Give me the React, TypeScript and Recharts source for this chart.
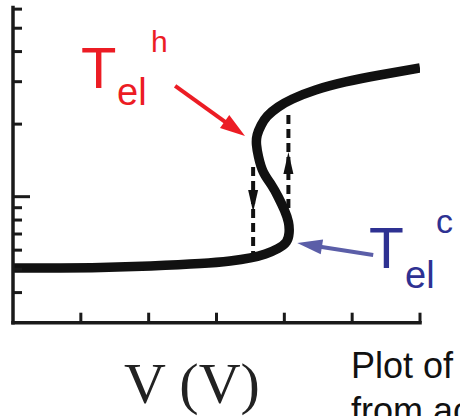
import React from 'react';
import { LineChart, Line, XAxis, YAxis, ReferenceDot } from 'recharts';

// S-shaped T_el(V) curve, in path order (V in volts, T on log axis)
const curveV = [0, 0.7, 1.29, 2.03, 2.76, 3.2, 3.5, 3.72, 3.91, 4.03, 4.07, 4.06, 4.0, 3.91, 3.81, 3.69, 3.62, 3.59, 3.6, 3.66, 3.75, 3.91, 4.12, 4.46, 4.9, 5.41, 6.0];
const curveT = [506, 506, 508, 516, 528, 541, 557, 578, 610, 649, 707, 785, 881, 997, 1118, 1266, 1461, 1639, 1803, 1984, 2162, 2356, 2543, 2772, 2992, 3199, 3420];

// dashed jump lines
const downJumpV = [3.54, 3.54];
const downJumpT = [1328, 570];
const downTip = { v: 3.54, T: 864 };
const upJumpV = [4.06, 4.06];
const upJumpT = [2182, 896];
const upTip = { v: 4.06, T: 1533 };

// annotation arrows
const hotShaftV = [2.39, 3.23];
const hotShaftT = [2879, 1946];
const hotTip = { v: 3.42, T: 1786 };
const coldShaftV = [5.31, 4.41];
const coldShaftT = [573, 627];
const coldTip = { v: 4.19, T: 643 };

const xTicks = [1, 2, 3, 4, 5, 6];
const yTicks = [400, 500, 600, 700, 800, 900, 1000, 2000, 3000, 4000, 5000, 6000];
const majorYTicks = [1000];

const labelHot = { base: 'T', sub: 'el', sup: 'h' };
const labelCold = { base: 'T', sub: 'el', sup: 'c' };
const xLabel = 'V (V)';
const captionLines = ['Plot of', 'from ac'];

const toPts = (vs: number[], ts: number[]) => vs.map((v, i) => ({ v, T: ts[i] }));
const curveData = toPts(curveV, curveT);
const downData = toPts(downJumpV, downJumpT);
const upData = toPts(upJumpV, upJumpT);
const hotData = toPts(hotShaftV, hotShaftT);
const coldData = toPts(coldShaftV, coldShaftT);

const AXIS = '#1a1a1a';
const RED = '#ec1c24';
const BLUE_TEXT = '#2e3192';
const BLUE_ARROW = '#5b5ea8';

const YTick = (props: any) => {
  const { x, y, payload } = props;
  const len = majorYTicks.includes(payload.value) ? 17 : 9;
  return <line x1={x} y1={y} x2={x + len} y2={y} stroke={AXIS} strokeWidth={3} />;
};
const XTick = (props: any) => {
  const { x, y } = props;
  return <line x1={x} y1={y} x2={x} y2={y - 10} stroke={AXIS} strokeWidth={3} />;
};

const head = (angle: number, L: number, W: number, color: string) => (p: any) => {
  const { cx, cy } = p;
  return (
    <polygon
      points={`0,0 ${-L},${-W / 2} ${-L},${W / 2}`}
      fill={color}
      transform={`translate(${cx},${cy}) rotate(${angle})`}
    />
  );
};

export default function App() {
  return (
    <div style={{ position: 'absolute', left: 0, top: 0, width: 460, height: 416, background: '#fff', overflow: 'hidden' }}>
      <LineChart width={460} height={416} margin={{ top: 7.4, left: 12, right: 40, bottom: 92.3 }}>
        <XAxis
          type="number"
          dataKey="v"
          domain={[0, 6]}
          ticks={xTicks}
          interval={0}
          height={1}
          tickSize={0}
          tickMargin={0}
          tick={<XTick />}
          tickLine={false}
          axisLine={{ stroke: AXIS, strokeWidth: 3.5, strokeLinecap: 'square' }}
          allowDataOverflow
        />
        <YAxis
          type="number"
          dataKey="T"
          scale="log"
          domain={[300, 6100]}
          ticks={yTicks}
          interval={0}
          width={1}
          tickSize={0}
          tickMargin={0}
          tick={<YTick />}
          tickLine={false}
          axisLine={{ stroke: AXIS, strokeWidth: 3.5, strokeLinecap: 'square' }}
          allowDataOverflow
        />
        <Line data={downData} dataKey="T" type="linear" stroke="#111" strokeWidth={4} strokeDasharray="9 5" dot={false} activeDot={false} isAnimationActive={false} />
        <Line data={upData} dataKey="T" type="linear" stroke="#111" strokeWidth={4} strokeDasharray="9 5" dot={false} activeDot={false} isAnimationActive={false} />
        <ReferenceDot x={downTip.v} y={downTip.T} r={0} ifOverflow="visible" shape={head(90, 22, 10, '#111')} />
        <ReferenceDot x={upTip.v} y={upTip.T} r={0} ifOverflow="visible" shape={head(-90, 22, 10, '#111')} />
        <Line data={curveData} dataKey="T" type="natural" stroke="#111" strokeWidth={9.5} strokeLinecap="butt" dot={false} activeDot={false} isAnimationActive={false} />
        <Line data={hotData} dataKey="T" type="linear" stroke={RED} strokeWidth={4} dot={false} activeDot={false} isAnimationActive={false} />
        <ReferenceDot x={hotTip.v} y={hotTip.T} r={0} ifOverflow="visible" shape={head(35.5, 25, 16, RED)} />
        <Line data={coldData} dataKey="T" type="linear" stroke={BLUE_ARROW} strokeWidth={4} dot={false} activeDot={false} isAnimationActive={false} />
        <ReferenceDot x={coldTip.v} y={coldTip.T} r={0} ifOverflow="visible" shape={head(189, 25, 15, BLUE_ARROW)} />
      </LineChart>
      <svg width={460} height={416} style={{ position: 'absolute', left: 0, top: 0, pointerEvents: 'none' }}>
        <g fontFamily="'Liberation Sans', Arial, sans-serif" fill={RED}>
          <text x={81} y={88} fontSize={58}>{labelHot.base}</text>
          <text x={117} y={105} fontSize={38}>{labelHot.sub}</text>
          <text x={151} y={52} fontSize={30}>{labelHot.sup}</text>
        </g>
        <g fontFamily="'Liberation Sans', Arial, sans-serif" fill={BLUE_TEXT}>
          <text x={369} y={268} fontSize={57}>{labelCold.base}</text>
          <text x={405} y={288} fontSize={38}>{labelCold.sub}</text>
          <text x={436} y={233} fontSize={34}>{labelCold.sup}</text>
        </g>
        <text x={124} y={403} fontSize={58} fontFamily="'Liberation Serif', 'Times New Roman', serif" fill="#222">{xLabel}</text>
        <g fontFamily="'Liberation Sans', Arial, sans-serif" fill="#111" fontSize={36}>
          <text x={351} y={378}>{captionLines[0]}</text>
          <text x={351} y={423}>{captionLines[1]}</text>
        </g>
      </svg>
    </div>
  );
}
